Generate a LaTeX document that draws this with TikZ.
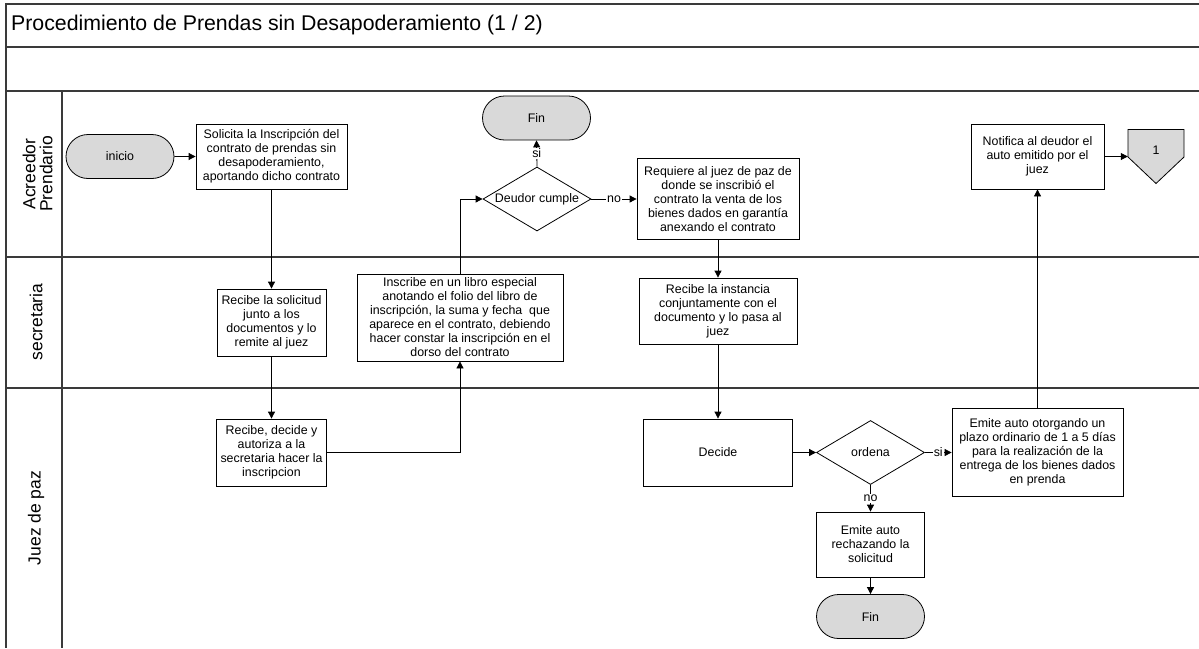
\documentclass[tikz,border=0pt]{standalone}
\usepackage{fontspec}
\setmainfont{Liberation Sans}
\usetikzlibrary{shapes.geometric,shapes.misc,arrows.meta}
\definecolor{termgray}{HTML}{D9D9D9}
\definecolor{framegray}{HTML}{3A3A3A}
\begin{document}
\begin{tikzpicture}[x=1pt,y=-1pt,
  every node/.style={font=\fontsize{12.4}{14}\selectfont, text=black},
  frameline/.style={draw=framegray, line width=1.4pt},
  term/.style={draw, rounded rectangle, fill=termgray, line width=0.8pt,
    minimum width=108pt, minimum height=44pt, inner sep=0pt},
  proc/.style={draw, rectangle, align=center, line width=0.8pt, inner sep=0pt},
  decis/.style={draw, diamond, aspect=1.69, line width=0.8pt, inner sep=0pt,
    minimum width=108pt, minimum height=64pt},
  flow/.style={draw, line width=0.8pt, -{Triangle[length=7pt,width=7pt]}},
  lbl/.style={fill=white, inner sep=1pt},
  lanelabel/.style={rotate=90, align=center, font=\fontsize{17.5}{17}\selectfont}
]
\useasboundingbox (0,0) rectangle (1199,648);

% swimlane frame
\draw[frameline] (1199,4) -- (6,4) -- (6,648);
\draw[frameline] (6,47) -- (1199,47);
\draw[frameline] (6,91) -- (1199,91);
\draw[frameline] (6,257) -- (1199,257);
\draw[frameline] (6,388) -- (1199,388);
\draw[frameline] (62,91) -- (62,648);

% title and lane names
\node[anchor=west, inner sep=0pt, font=\fontsize{21.3}{24}\selectfont] (title) at (11,25)
  {Procedimiento de Prendas sin Desapoderamiento (1 / 2)};
\node[lanelabel] (laneA) at (37.5,174) {Acreedor\\Prendario};
\node[lanelabel] (laneS) at (36,322) {secretaria};
\node[lanelabel] (laneJ) at (36,518) {Juez de paz};

% Acreedor Prendario lane
\node[term] (inicio) at (120,156.5) {inicio};
\node[proc, minimum width=151pt, minimum height=65pt] (solicita) at (271.5,156.5)
  {Solicita la Inscripción del\\contrato de prendas sin\\desapoderamiento,\\aportando dicho contrato};
\node[term] (fin1) at (536.5,118) {Fin};
\node[decis] (deudor) at (537,199) {Deudor cumple};
\node[proc, minimum width=162pt, minimum height=81pt] (requiere) at (718,199)
  {Requiere al juez de paz de\\donde se inscribió el\\contrato la venta de los\\bienes dados en garantía\\anexando el contrato};
\node[proc, minimum width=133pt, minimum height=65pt] (notifica) at (1037.5,156.5)
  {Notifica al deudor el\\auto emitido por el\\juez};
\node[inner sep=0pt, minimum width=56pt, minimum height=54pt] (conn) at (1156,156.5) {};
\draw[fill=termgray, line width=0.8pt] (1128,129.5) -- (1184,129.5) -- (1184,157)
  -- (1156,183.5) -- (1128,157) -- cycle;
\node (connlbl) at (1156,150) {1};

% secretaria lane
\node[proc, minimum width=109pt, minimum height=67pt] (recsol) at (271.5,322.5)
  {Recibe la solicitud\\junto a los\\documentos y lo\\remite al juez};
\node[proc, minimum width=206pt, minimum height=87pt] (inscribe) at (460,317.5)
  {Inscribe en un libro especial\\anotando el folio del libro de\\inscripción, la suma y fecha\ \ que\\aparece en el contrato, debiendo\\hacer constar la inscripción en el\\dorso del contrato};
\node[proc, minimum width=158pt, minimum height=66pt] (recinst) at (718,311)
  {Recibe la instancia\\conjuntamente con el\\documento y lo pasa al\\juez};

% Juez de paz lane
\node[proc, minimum width=110pt, minimum height=67pt] (recdec) at (271.5,452.5)
  {Recibe, decide y\\autoriza a la\\secretaria hacer la\\inscripcion};
\node[proc, minimum width=149pt, minimum height=67pt] (decide) at (718,452.5) {Decide};
\node[decis] (ordena) at (870.5,452.5) {ordena};
\node[proc, minimum width=171pt, minimum height=88pt] (emiteot) at (1037.5,452.5)
  {Emite auto otorgando un\\plazo ordinario de 1 a 5 días\\para la realización de la\\entrega de los bienes dados\\en prenda};
\node[proc, minimum width=108pt, minimum height=65pt] (emiterech) at (870.5,544.5)
  {Emite auto\\rechazando la\\solicitud};
\node[term] (fin2) at (870.5,616.5) {Fin};

% connectors
\draw[flow] (inicio) -- (solicita);
\draw[flow] (solicita) -- (recsol);
\draw[flow] (recsol) -- (recdec);
\draw[flow] (recdec.east) -| (inscribe.south);
\draw[flow] (inscribe.north) |- (deudor.west);
\draw[flow] (deudor.north) -- node[lbl] {si} (fin1.south);
\draw[flow] (deudor.east) -- node[lbl] {no} (requiere.west);
\draw[flow] (requiere) -- (recinst);
\draw[flow] (recinst) -- (decide);
\draw[flow] (decide) -- (ordena);
\draw[flow] (ordena.east) -- node[lbl] {si} (emiteot.west);
\draw[flow] (ordena.south) -- node[lbl] {no} (emiterech.north);
\draw[flow] (emiterech) -- (fin2);
\draw[flow] (emiteot) -- (notifica);
\draw[flow] (notifica) -- (conn);
\end{tikzpicture}
\end{document}
